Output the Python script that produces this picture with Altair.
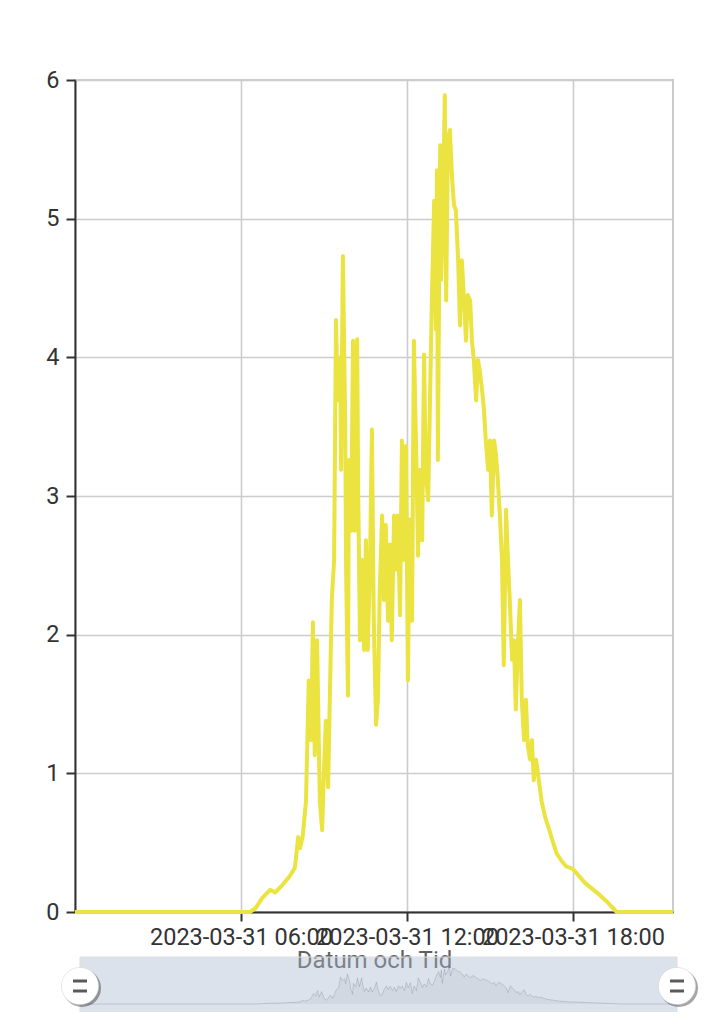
import altair as alt
import pandas as pd

# ---- data ----
times = [
    "00:00", "06:20", "06:32", "06:46", "07:03", "07:14", "07:31", "07:46", "07:57", "08:04",
    "08:08", "08:14", "08:21", "08:27", "08:32", "08:36", "08:40", "08:45", "08:51", "08:56",
    "09:00", "09:04", "09:09", "09:13", "09:17", "09:22", "09:26", "09:30", "09:35", "09:37",
    "09:41", "09:46", "09:48", "09:52", "09:54", "09:59", "10:03", "10:07", "10:12", "10:14",
    "10:18", "10:22", "10:27", "10:31", "10:35", "10:40", "10:44", "10:48", "10:53", "10:57",
    "11:01", "11:06", "11:10", "11:14", "11:19", "11:23", "11:27", "11:32", "11:36", "11:40",
    "11:45", "11:49", "11:53", "11:58", "12:02", "12:06", "12:11", "12:15", "12:20", "12:24",
    "12:28", "12:33", "12:37", "12:41", "12:46", "12:50", "12:54", "12:59", "13:03", "13:05",
    "13:07", "13:12", "13:14", "13:18", "13:22", "13:25", "13:29", "13:33", "13:38", "13:42",
    "13:46", "13:51", "13:55", "13:59", "14:04", "14:08", "14:12", "14:17", "14:21", "14:25",
    "14:30", "14:34", "14:38", "14:43", "14:47", "14:51", "14:56", "15:00", "15:04", "15:09",
    "15:13", "15:17", "15:22", "15:26", "15:30", "15:35", "15:39", "15:43", "15:48", "15:52",
    "15:56", "16:01", "16:05", "16:09", "16:14", "16:18", "16:22", "16:27", "16:31", "16:35",
    "16:40", "16:44", "16:52", "17:00", "17:08", "17:15", "17:25", "17:35", "17:45", "18:00",
    "18:26", "18:52", "19:15", "19:35", "21:37",
]
values = [
    0, 0, 0.03, 0.10, 0.16, 0.14, 0.20, 0.26, 0.32, 0.54,
    0.46, 0.55, 0.80, 1.67, 1.24, 2.09, 1.13, 1.96, 0.80, 0.59,
    1.02, 1.38, 0.90, 1.60, 2.25, 2.54, 4.27, 3.69, 4.00, 3.19,
    4.73, 3.55, 2.47, 1.56, 3.26, 2.75, 4.12, 2.75, 4.13, 3.12,
    1.96, 2.54, 1.89, 2.68, 1.89, 2.54, 3.48, 2.10, 1.35, 1.53,
    2.32, 2.86, 2.25, 2.79, 2.10, 2.65, 1.96, 2.86, 2.47, 2.86,
    2.14, 3.40, 2.54, 3.36, 1.67, 2.83, 2.10, 4.12, 3.33, 2.57,
    3.19, 2.68, 4.02, 3.15, 2.97, 3.69, 4.41, 5.13, 4.20, 5.35,
    3.26, 5.53, 4.56, 5.00, 5.89, 4.41, 5.57, 5.64, 5.28, 5.10,
    5.06, 4.70, 4.23, 4.70, 4.41, 4.12, 4.45, 4.41, 4.12, 3.98,
    3.69, 3.98, 3.90, 3.76, 3.62, 3.40, 3.19, 3.40, 2.86, 3.40,
    3.30, 3.12, 2.83, 2.54, 1.78, 2.90, 2.54, 2.25, 1.82, 1.96,
    1.46, 1.96, 2.25, 1.53, 1.24, 1.53, 1.20, 1.10, 1.24, 0.95,
    1.10, 1.00, 0.80, 0.68, 0.60, 0.52, 0.42, 0.37, 0.33, 0.31,
    0.21, 0.14, 0.07, 0, 0,
]
day = "2023-03-31"
x_tick_hours = [6, 12, 18]
y_ticks = [0, 1, 2, 3, 4, 5, 6]
x_title = "Datum och Tid"

df = pd.DataFrame({"t": [f"{day}T{t}:00" for t in times], "v": values})
handles = pd.DataFrame({"t": [df["t"].iloc[0], df["t"].iloc[-1]]})
span = pd.DataFrame({"t": [df["t"].iloc[0]], "t2": [df["t"].iloc[-1]]})

t0 = alt.DateTime(year=2023, month=3, date=31, hours=0, minutes=0)
t1 = alt.DateTime(year=2023, month=3, date=31, hours=21, minutes=37)

FONT = "Roboto"
W, H = 598, 832

x_main = alt.X(
    "t:T",
    scale=alt.Scale(domain=[t0, t1]),
    axis=alt.Axis(
        values=[alt.DateTime(year=2023, month=3, date=31, hours=h) for h in x_tick_hours],
        format="%Y-%m-%d %H:%M",
        labelOverlap=False,
        labelFlush=False,
        labelLimit=400,
        title=x_title,
    ),
)
y_main = alt.Y(
    "v:Q",
    scale=alt.Scale(domain=[0, 6], nice=False),
    axis=alt.Axis(values=y_ticks, title=None),
)

line = alt.Chart(df).mark_line(color="#ebe33f", strokeWidth=4, strokeJoin="round").encode(
    x=x_main, y=y_main
)
main = alt.layer(line)

# ---- data-zoom slider below the plot ----
x_mini = alt.X("t:T", scale=alt.Scale(domain=[t0, t1], range=[5, 602]), axis=None)
y_mini = alt.Y("v:Q", scale=alt.Scale(domain=[0, 6], range=[924, 886], nice=False), axis=None)

bg = alt.Chart(span).mark_rect(fill="#a7b7cc", fillOpacity=0.4, stroke="#dddddd", strokeWidth=1).encode(
    x=alt.X("t:T", scale=alt.Scale(domain=[t0, t1], range=[5, 602]), axis=None),
    x2="t2:T",
    y=alt.value(877),
    y2=alt.value(933),
)
mini_area = alt.Chart(df).mark_area(color="#2f4554", opacity=0.06).encode(x=x_mini, y=y_mini)
mini_line = alt.Chart(df).mark_line(color="#2f4554", opacity=0.18, strokeWidth=1).encode(x=x_mini, y=y_mini)
shadow = alt.Chart(handles).mark_point(
    shape="circle", filled=True, color="#000000", opacity=0.35, size=1450, xOffset=2, yOffset=2
).encode(x=x_mini, y=alt.value(906))
knob = alt.Chart(handles).mark_point(
    shape="circle", filled=True, color="#ffffff", opacity=1, size=1385, stroke="#cfcfcf", strokeWidth=0.5
).encode(x=x_mini, y=alt.value(906))
bars = alt.Chart(handles).mark_point(
    shape="M-0.333,-0.31H0.333V-0.167H-0.333Z M-0.333,0.167H0.333V0.31H-0.333Z",
    filled=True, color="#5a5a5a", opacity=1, size=1764, strokeWidth=0,
).encode(x=x_mini, y=alt.value(906))
mini = alt.layer(bg, mini_area, mini_line, shadow, knob, bars)

chart = (
    alt.layer(main, mini)
    .resolve_scale(x="independent", y="independent")
    .properties(
        width=W,
        height=H,
        autosize=alt.AutoSizeParams(type="none"),
        padding={"left": 67, "top": 72, "right": 40, "bottom": 100},
    )
    .configure_view(stroke="#cccccc", strokeWidth=2)
    .configure_axis(
        labelFont=FONT,
        titleFont=FONT,
        labelFontSize=23.5,
        labelColor="#333333",
        domainColor="#333333",
        domainWidth=2,
        tickColor="#333333",
        tickWidth=2,
        tickSize=9,
        gridColor="#cccccc",
        gridWidth=1.6,
        grid=True,
    )
    .configure_axisX(
        labelPadding=4,
        titleFontSize=24,
        titleColor="#5f5f5f",
        titleFontWeight="normal",
        titlePadding=0,
    )
    .configure_axisY(labelPadding=7)
)

chart.save("out.html", embed_options={"renderer": "svg", "actions": False})
